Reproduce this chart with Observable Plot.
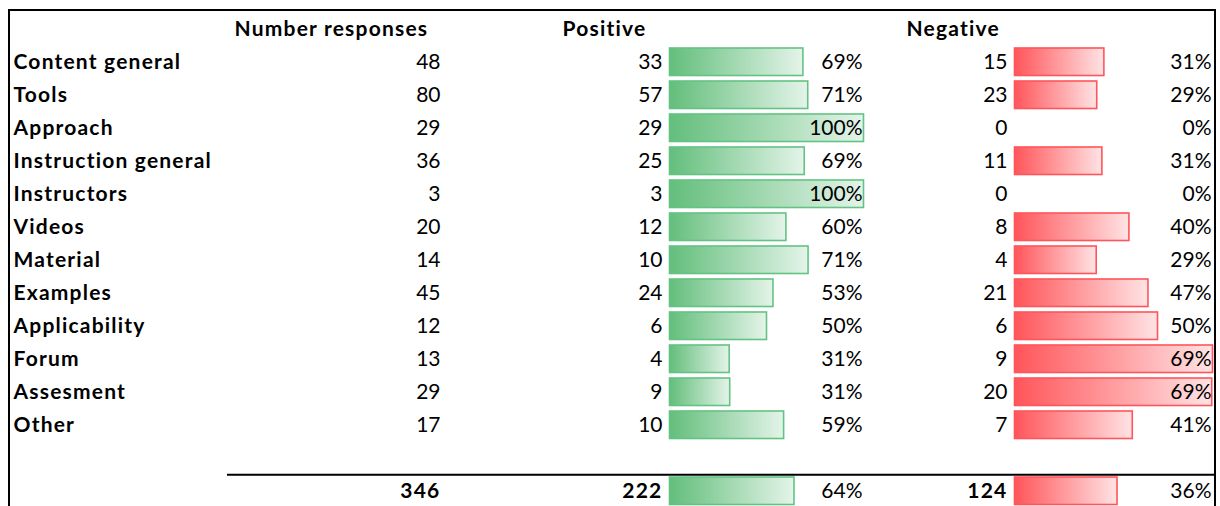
<!DOCTYPE html>
<html><head><meta charset="utf-8">
<script src="https://cdn.jsdelivr.net/npm/d3@7"></script>
<script src="https://cdn.jsdelivr.net/npm/@observablehq/plot@0.6"></script>
<style>
html,body{margin:0;padding:0;background:#fff;overflow:hidden}
#wrap{position:relative;width:1220px;height:506px;overflow:hidden;background:#fff}
#wrap svg{position:absolute;left:0;top:0;background:transparent !important;max-width:none !important}
#frame{position:absolute;left:8px;top:9px;width:1208px;height:600px;border:2px solid #000;box-sizing:border-box}
</style></head><body><div id="wrap"><div id="frame"></div></div>
<script>
// ---- data ----
const categories = ["Content general","Tools","Approach","Instruction general","Instructors","Videos","Material","Examples","Applicability","Forum","Assesment","Other"];
const responses = [48,80,29,36,3,20,14,45,12,13,29,17];
const positive  = [33,57,29,25,3,12,10,24,6,4,9,10];
const negative  = [15,23,0,11,0,8,4,21,6,9,20,7];
const headers   = ["Number responses","Positive","Negative"];

// ---- layout ----
const W = 1220, H = 512, top0 = 10.9, step = 33.4;
const FONT = "Lato", FS = 21, DY = 5;
const col = {label:13, numHead:234, num:440, posHead:562, pos:662, posPct:862, negHead:906, neg:1007, negPct:1211, lineStart:227, lineEnd:1215};
const posRange = [669.5, 863.5], negRange = [1014.5, 1212.5];
const green = "#63BE7B", greenEnd = "#E4F4E9", greenStroke = "#63C384";
const red = "#FF555A", redEnd = "#FFE3E4", redStroke = "#FF555A";

const fmt = d3.format(".0%");
const rows = categories.map((c,i)=>({key:c, label:c, n:responses[i], pos:positive[i], neg:negative[i], total:false}));
const totalRow = {key:"__total", label:"", n:d3.sum(responses), pos:d3.sum(positive), neg:d3.sum(negative), total:true};
const all = [...rows, totalRow].map(d=>({...d, posPct:d.pos/d.n, negPct:d.neg/d.n}));
const body = all.filter(d=>!d.total), tot = all.filter(d=>d.total);
const keys = ["__header", ...categories, "__blank", "__total"];
const yScale = {type:"band", domain:keys, range:[top0, top0+keys.length*step], padding:0, axis:null};
const headerRow = [
  {text:headers[0], x:col.numHead},
  {text:headers[1], x:col.posHead},
  {text:headers[2], x:col.negHead}
];

const common = {width:W, height:H, marginTop:0, marginBottom:0, marginLeft:0, marginRight:0, style:{background:"transparent", overflow:"visible"}};
const txt = {fontFamily:FONT, fontSize:FS, lineAnchor:"bottom", dy:DY, fill:"#000"};

function addGradient(svg, id, c0, c1){
  const defs = d3.select(svg).insert("defs", ":first-child");
  const g = defs.append("linearGradient").attr("id", id).attr("x1",0).attr("x2",1).attr("y1",0).attr("y2",0);
  g.append("stop").attr("offset",0).attr("stop-color",c0);
  g.append("stop").attr("offset",1).attr("stop-color",c1);
}

const posPlot = Plot.plot({...common,
  x:{domain:[0, d3.max(all, d=>d.posPct)], range:posRange, axis:null},
  y:yScale,
  marks:[Plot.barX(all.filter(d=>d.pos>0), {x:"posPct", y:"key", fill:"url(#gradPos)", stroke:greenStroke, strokeWidth:1.6, insetTop:1, insetBottom:4.5})]
});
addGradient(posPlot, "gradPos", green, greenEnd);

const negPlot = Plot.plot({...common,
  x:{domain:[0, d3.max(all, d=>d.negPct)], range:negRange, axis:null},
  y:yScale,
  marks:[Plot.barX(all.filter(d=>d.neg>0), {x:"negPct", y:"key", fill:"url(#gradNeg)", stroke:redStroke, strokeWidth:1.6, insetTop:1, insetBottom:4.5})]
});
addGradient(negPlot, "gradNeg", red, redEnd);

const numCols = [["n", col.num], ["pos", col.pos], ["neg", col.neg]];
const base = Plot.plot({...common,
  x:{domain:[0,W], range:[0,W], axis:null},
  y:yScale,
  marks:[
    Plot.text(headerRow, {...txt, x:"x", y:()=>"__header", text:"text", textAnchor:"start", fontWeight:"bold"}),
    Plot.text(body, {...txt, x:()=>col.label, y:"key", text:"label", textAnchor:"start", fontWeight:"bold"}),
    ...numCols.map(([k,x])=>Plot.text(body, {...txt, x:()=>x, y:"key", text:d=>String(d[k]), textAnchor:"end"})),
    ...numCols.map(([k,x])=>Plot.text(tot, {...txt, x:()=>x, y:"key", text:d=>String(d[k]), textAnchor:"end", fontWeight:"bold"})),
    Plot.text(all, {...txt, x:()=>col.posPct, y:"key", text:d=>fmt(d.posPct), textAnchor:"end"}),
    Plot.text(all, {...txt, x:()=>col.negPct, y:"key", text:d=>fmt(d.negPct), textAnchor:"end"}),
    Plot.ruleY(["__total"], {y:d=>d, x1:col.lineStart, x2:col.lineEnd, stroke:"#000", strokeWidth:2, dy:-18.3})
  ]
});
// Calibri-like widths for the bold texts
d3.select(base).selectAll('g[font-weight="bold"]').style("letter-spacing", "1.2px");

const wrap = document.getElementById("wrap");
wrap.appendChild(posPlot);
wrap.appendChild(negPlot);
wrap.appendChild(base);
</script></body></html>
